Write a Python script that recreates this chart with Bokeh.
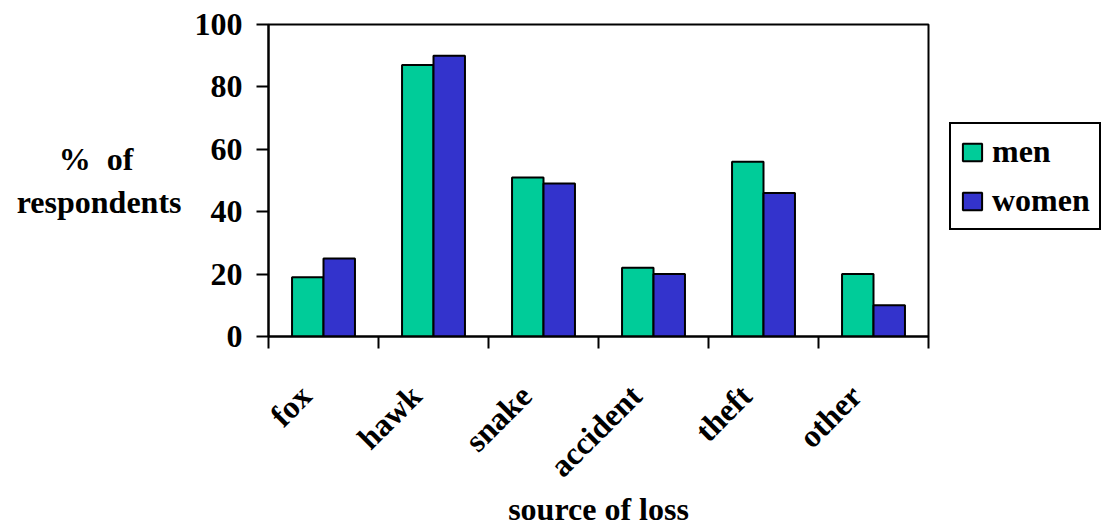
import math
import numpy as np
from bokeh.plotting import figure
from bokeh.layouts import row
from bokeh.models import Range1d, FixedTicker, Legend, LegendItem
from bokeh.embed import file_html
from bokeh.resources import INLINE

# survey data: percentage of respondents naming each source of loss
categories = ["fox", "hawk", "snake", "accident", "theft", "other"]
men = [19, 87, 51, 22, 56, 20]
women = [25, 90, 49, 20, 46, 10]
y_ticks = [0, 20, 40, 60, 80, 100]

FONT = "Liberation Serif"
SIZE = "32px"
GREEN = "#00CC99"
BLUE = "#3333CC"

n = len(categories)
centers = np.arange(n) + 0.5
bounds = list(np.arange(n + 1).astype(float))
bar_w = 0.286
# slanted labels end a little left of their group's centre
label_pos = [float(c) for c in centers - 0.16]

p = figure(width=938, height=530, output_backend="svg", toolbar_location=None,
           x_range=Range1d(0, n), y_range=Range1d(0, 100),
           min_border_left=268, min_border_right=10,
           min_border_top=24, min_border_bottom=193)

p.grid.visible = False
p.outline_line_color = "black"
p.outline_line_width = 2
p.background_fill_color = "white"
p.border_fill_color = "white"

bar_style = dict(line_color="black", line_width=2)
p.vbar(x=centers - bar_w / 2, top=men, width=bar_w, bottom=0,
       fill_color=GREEN, **bar_style)
p.vbar(x=centers + bar_w / 2, top=women, width=bar_w, bottom=0,
       fill_color=BLUE, **bar_style)

# x axis: labels under each group, tick marks between groups
xa = p.xaxis[0]
xa.ticker = FixedTicker(ticks=label_pos, minor_ticks=bounds)
xa.major_label_overrides = {c: lab for c, lab in zip(label_pos, categories)}
xa.major_tick_line_color = None
xa.minor_tick_out = 12
xa.minor_tick_in = 0
xa.minor_tick_line_width = 2
xa.minor_tick_line_color = "black"
xa.axis_line_width = 2
xa.major_label_orientation = math.pi / 4
xa.major_label_standoff = 42
xa.major_label_text_font = FONT
xa.major_label_text_font_style = "bold"
xa.major_label_text_font_size = SIZE
xa.major_label_text_color = "black"
xa.axis_label = "source of loss"
xa.axis_label_text_font = FONT
xa.axis_label_text_font_style = "bold"
xa.axis_label_text_font_size = SIZE
xa.axis_label_text_color = "black"
xa.axis_label_standoff = -8

ya = p.yaxis[0]
ya.ticker = FixedTicker(ticks=y_ticks, minor_ticks=[])
ya.major_tick_out = 12
ya.major_tick_in = 0
ya.major_tick_line_width = 2
ya.axis_line_width = 2
ya.major_label_standoff = 14
ya.major_label_text_font = FONT
ya.major_label_text_font_style = "bold"
ya.major_label_text_font_size = SIZE
ya.major_label_text_color = "black"
ya.axis_label = "% \u00a0of" + "\u00a0" * 6 + "\nrespondents"
ya.axis_label_orientation = "horizontal"
ya.axis_label_text_font = FONT
ya.axis_label_text_font_style = "bold"
ya.axis_label_text_font_size = SIZE
ya.axis_label_text_color = "black"
ya.axis_label_standoff = 10

# legend panel beside the chart; its key renderers repeat the series
# but stay hidden, so only their legend swatches are drawn
side = figure(width=168, height=530, output_backend="svg", toolbar_location=None,
              x_axis_type=None, y_axis_type=None,
              x_range=Range1d(-2, -1), y_range=Range1d(0, 100),
              min_border=0)
side.grid.visible = False
side.outline_line_color = None
side.background_fill_color = "white"
side.border_fill_color = "white"
key_men = side.vbar(x=centers - bar_w / 2, top=men, width=bar_w, bottom=0,
                    fill_color=GREEN, visible=False, **bar_style)
key_women = side.vbar(x=centers + bar_w / 2, top=women, width=bar_w, bottom=0,
                      fill_color=BLUE, visible=False, **bar_style)

# the row lines up both frames, so the legend is placed against the chart frame
legend = Legend(items=[LegendItem(label="men", renderers=[key_men]),
                       LegendItem(label="women", renderers=[key_women])],
                location=(11, 106))
legend.inactive_fill_alpha = 0.0
legend.border_line_color = "black"
legend.border_line_alpha = 1.0
legend.border_line_width = 2
legend.background_fill_color = "white"
legend.background_fill_alpha = 1.0
legend.padding = 9
legend.spacing = 12
legend.margin = 0
legend.glyph_width = 24
legend.glyph_height = 22
legend.label_standoff = 8
legend.label_text_font = FONT
legend.label_text_font_style = "bold"
legend.label_text_font_size = SIZE
legend.label_text_color = "black"
side.add_layout(legend, "center")

layout = row(p, side, spacing=0)
open("out.html", "w").write(file_html(layout, INLINE))
